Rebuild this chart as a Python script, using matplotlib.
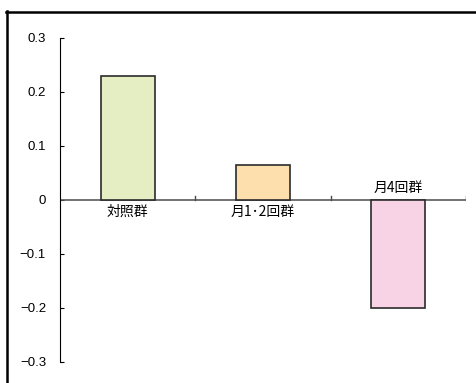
import matplotlib.pyplot as plt
import numpy as np

plt.rcParams['font.family'] = ['Liberation Sans', 'Noto Sans CJK JP', 'DejaVu Sans']

groups = ['対照群', '月1･2回群', '月4回群']
values = [0.23, 0.065, -0.2]
colors = ['#E5EEC3', '#FDDFAE', '#F8D3E6']

fig = plt.figure(figsize=(4.76, 3.83), dpi=100)
ax = fig.add_axes([60 / 476, 1 - 362 / 383, 406 / 476, 324 / 383])

x = np.arange(len(groups))
ax.bar(x, values, width=0.4, color=colors, edgecolor='#2b2b2b', linewidth=1.2, zorder=3)

ax.set_xlim(-0.5, 2.5)
ax.set_ylim(-0.3, 0.3)
ax.set_yticks(np.arange(-0.3, 0.31, 0.1))
ax.set_yticklabels(['\u22120.3', '\u22120.2', '\u22120.1', '0', '0.1', '0.2', '0.3'], fontsize=9.5)
ax.tick_params(axis='y', direction='in', length=3, width=0.8, pad=10)

# x axis sits on zero with ticks between the groups
for s in ['top', 'right', 'bottom']:
    ax.spines[s].set_visible(False)
ax.spines['left'].set_linewidth(0.8)
ax.axhline(0, color='#5a5a5a', linewidth=1.2, zorder=2)
ax.set_xticks([])
for b in [0.5, 1.5, 2.5]:
    ax.plot([b, b], [0, 0.008], color='#4a4a4a', linewidth=1.0, zorder=2)

# group names beside the zero line, on the side away from the bar
for xi, v, name in zip(x, values, groups):
    if v >= 0:
        ax.text(xi, -0.009, name, ha='center', va='top', fontsize=10,
                family=['Noto Sans CJK JP', 'DejaVu Sans'])
    else:
        ax.text(xi, 0.009, name, ha='center', va='bottom', fontsize=10,
                family=['Noto Sans CJK JP', 'DejaVu Sans'])

# outer frame, left and top edges only
fig.add_artist(plt.Line2D([7 / 476, 7 / 476], [0, 1 - 11 / 383], transform=fig.transFigure,
                          color='black', linewidth=1.8))
fig.add_artist(plt.Line2D([6 / 476, 1], [1 - 12 / 383, 1 - 12 / 383], transform=fig.transFigure,
                          color='black', linewidth=1.8))

fig.savefig('out.png', dpi=100)
